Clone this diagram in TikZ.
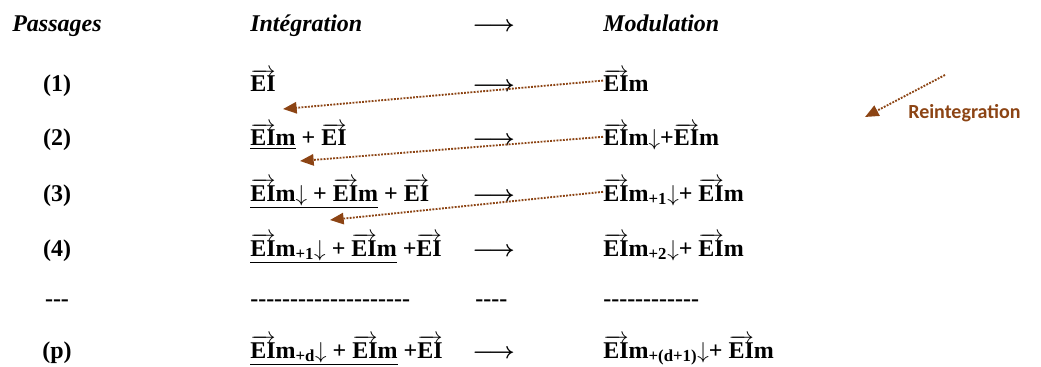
\documentclass[tikz,border=0pt]{standalone}
\usepackage{fontspec}
\setmainfont{Liberation Serif}
\newfontfamily\calibfont{Carlito}
\usetikzlibrary{arrows.meta,positioning}
\definecolor{reintbrown}{RGB}{140,68,20}
\newcommand{\vEI}{$\overrightarrow{\textbf{EI}}$}
\newcommand{\dn}{$\downarrow$}
\newcommand{\hyphs}[1]{\foreach \k in {1,...,#1}{-}}
\tikzset{
  hdr/.style={font=\fontsize{18}{20}\selectfont\bfseries\itshape, anchor=base west, inner sep=0pt},
  cell/.style={font=\fontsize{18}{20}\selectfont\bfseries, anchor=base west, inner sep=0pt},
  num/.style={font=\fontsize{18}{20}\selectfont\bfseries, anchor=base, inner sep=0pt},
  goes/.style={font=\fontsize{18}{20}\selectfont\boldmath, anchor=base west, inner sep=0pt},
  reflow/.style={-{Triangle[length=3.6mm,width=3mm]}, reintbrown, densely dotted, line width=1.4pt},
  rlab/.style={font=\calibfont\fontsize{15}{17}\selectfont\bfseries, text=reintbrown, anchor=west, inner sep=0pt},
}

\begin{document}
\begin{tikzpicture}[x=0.75pt,y=-0.75pt]
    \useasboundingbox (0,0) rectangle (1041,367);
    \def\xn{57} \def\xi{250} \def\xa{472} \def\xm{603}
    % header
    \node[hdr] (hpas) at (12,32) {Passages};
    \node[hdr] (hint) at (\xi,32) {Intégration};
    \node[goes] (harr) at (\xa,32) {$\longrightarrow$};
    \node[hdr] (hmod) at (\xm,32) {Modulation};
    % passage numbers
    \node[num] (n1) at (\xn,92) {(1)};
    \node[num] (n2) at (\xn,146) {(2)};
    \node[num] (n3) at (\xn,201) {(3)};
    \node[num] (n4) at (\xn,256) {(4)};
    \node[num] (nd) at (\xn,306) {\hyphs{3}};
    \node[num] (np) at (\xn,358) {(p)};
    % integration
    \node[cell] (i1) at (\xi,92) {\vEI};
    \node[cell] (i2) at (\xi,146) {\underline{\vEI m} + \vEI};
    \node[cell] (i3) at (\xi,201) {\underline{\vEI m\dn{} + \vEI m} + \vEI};
    \node[cell] (i4) at (\xi,256) {\underline{\vEI m\textsubscript{+1}\dn{} + \vEI m} +\vEI};
    \node[cell] (id) at (\xi,306) {\hyphs{20}};
    \node[cell] (ip) at (\xi,358) {\underline{\vEI m\textsubscript{+d}\dn{} + \vEI m} +\vEI};
    % arrows
    \foreach \y/\nm in {92/a1,146/a2,201/a3,256/a4,358/ap}
      \node[goes] (\nm) at (\xa,\y) {$\longrightarrow$};
    \node[cell] (ad) at (\xa+3,306) {\hyphs{4}};
    % modulation
    \node[cell] (m1) at (\xm,92) {\vEI m};
    \node[cell] (m2) at (\xm,146) {\vEI m\dn+\vEI m};
    \node[cell] (m3) at (\xm,201) {\vEI m\textsubscript{+1}\dn+ \vEI m};
    \node[cell] (m4) at (\xm,256) {\vEI m\textsubscript{+2}\dn+ \vEI m};
    \node[cell] (md) at (\xm,306) {\hyphs{12}};
    \node[cell] (mp) at (\xm,358) {\vEI m\textsubscript{+(d+1)}\dn+ \vEI m};
    % reintegration
    \coordinate (t1) at (283,109);
    \coordinate (t2) at (300,161);
    \coordinate (t3) at (330,220);
    \draw[reflow] (m1.west) -- (t1);
    \draw[reflow] (m2.west) -- (t2);
    \draw[reflow] (m3.west) -- (t3);
    \coordinate (rs) at (945,75);
    \coordinate (rt) at (865,117);
    \draw[reflow] (rs) -- (rt);
    \node[rlab] (rlab) at (908,113) {Reintegration};
\end{tikzpicture}
\end{document}
